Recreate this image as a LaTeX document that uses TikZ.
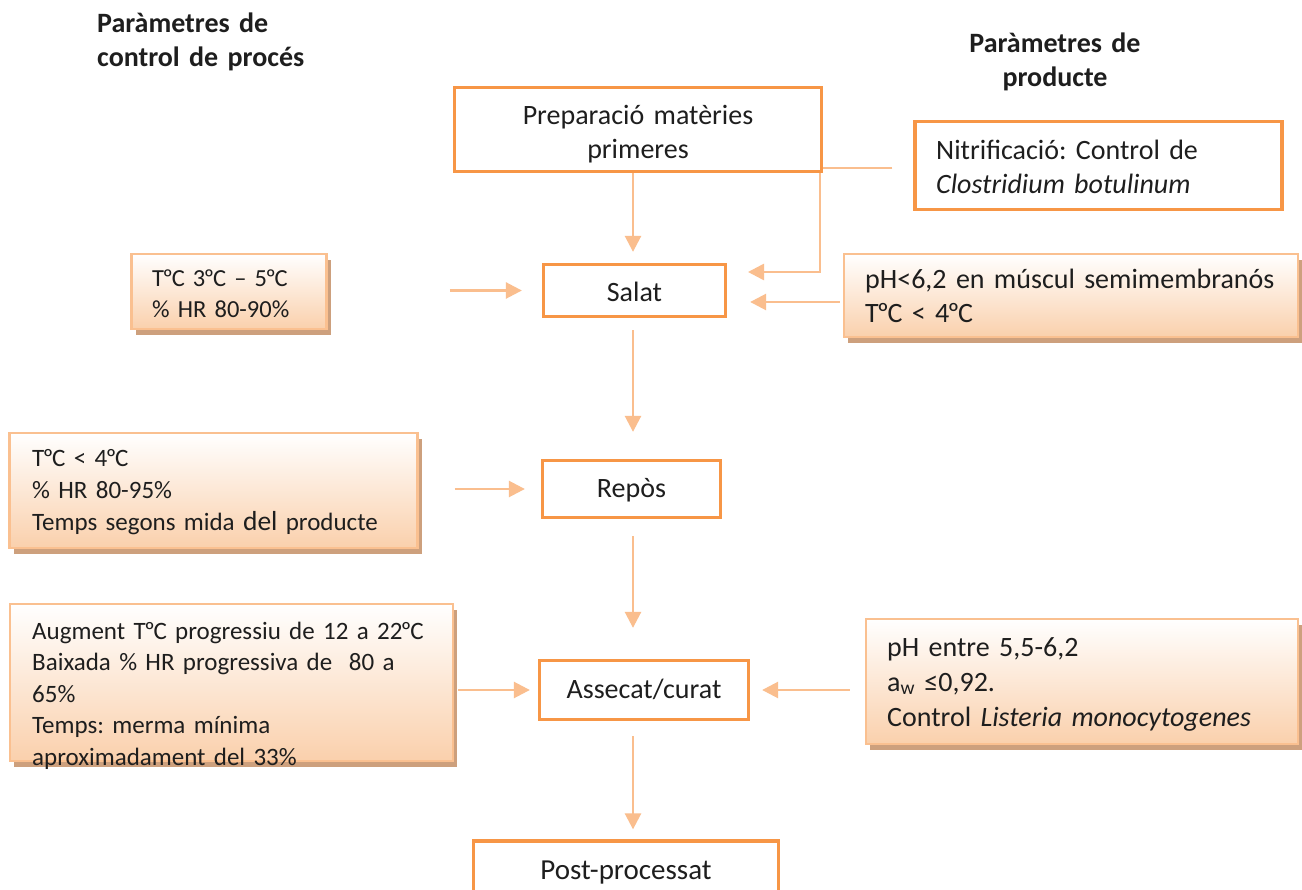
\documentclass[tikz,border=0pt]{standalone}
\usepackage{fontspec}
\setmainfont{Carlito}
\usetikzlibrary{arrows.meta,shadows}
\definecolor{orng}{RGB}{247,150,70}
\definecolor{lorng}{RGB}{250,190,142}
\definecolor{peach}{RGB}{250,208,172}
\definecolor{gedge}{RGB}{250,192,144}
\definecolor{shad}{RGB}{205,160,125}
\definecolor{ink}{RGB}{30,30,30}
\newcommand{\myord}{\kern-0.06em º\kern-0.05em}
\frenchspacing
\begin{document}
\begin{tikzpicture}[x=1pt,y=-1pt,
  obox/.style={draw=orng, line width=3.3pt, fill=white, inner sep=0pt},
  gbox/.style={draw=gedge, line width=2.8pt, top color=white, bottom color=peach, inner sep=0pt,
    drop shadow={shadow xshift=4pt, shadow yshift=-6pt, fill=shad, opacity=1}},
  txt/.style={text=ink, inner sep=0pt, anchor=base west, text width=460pt, align=left},
  ctxt/.style={text=ink, inner sep=0pt, anchor=base, font=\fontsize{28}{34}\selectfont},
  head/.style={text=ink, inner sep=0pt, text width=300pt, font=\fontsize{28}{34}\selectfont\bfseries},
  arr/.style={draw=lorng, line width=2.6pt, -{Triangle[length=16pt,width=16pt]}},
]
\useasboundingbox (0,0) rectangle (1302,890);
\fill[white] (0,0) rectangle (1302,890);

% headers
\node[head, anchor=base west, align=left] (h1) at (97,33) {Paràmetres de\\control de procés};
\node[head, anchor=base, align=center] (h2) at (1055,53) {Paràmetres de\\producte};

% right top box and connector (drawn under the preparation box)
\node[obox, minimum width=367pt, minimum height=88pt] (nitr) at (1098.5,165.5) {};
\node[txt, font=\fontsize{28}{34}\selectfont] (nitrt) at (936,160) {Nitrificació: Control de\\\textit{Clostridium botulinum}};
\coordinate (cj) at (820,168);
\coordinate (ce) at (748,272);
\draw[arr, shorten <=21pt] (nitr.west |- cj) -- (cj) |- (ce);

% process boxes
\node[obox, minimum width=367pt, minimum height=84pt] (prep) at (638,129.5) {};
\node[ctxt, text width=360pt, align=center] (prept) at (638,125) {Preparació matèries\\primeres};
\node[obox, minimum width=182pt, minimum height=52pt] (salat) at (634.5,290.5) {};
\node[ctxt] (salatt) at (634.5,302) {Salat};
\node[obox, minimum width=178pt, minimum height=57pt] (repos) at (631.5,489) {};
\node[ctxt] (repost) at (631.5,498) {Repòs};
\node[obox, minimum width=209pt, minimum height=59pt] (assec) at (644,690) {};
\node[ctxt] (assect) at (644,698) {Assecat/curat};
\node[obox, minimum width=305pt, minimum height=56pt] (post) at (626,869) {};
\node[ctxt, font=\fontsize{29}{34}\selectfont] (postt) at (626,879) {Post-processat};

% gradient boxes, left
\node[gbox, minimum width=195pt, minimum height=75pt] (lb1) at (229,291.5) {};
\node[txt, font=\fontsize{24.5}{31}\selectfont] (lb1t) at (152,287) {T\myord C 3\myord C – 5\myord C\\\% HR 80-90\%};
\node[gbox, minimum width=408pt, minimum height=115pt] (lb2) at (213.5,490.5) {};
\node[txt, font=\fontsize{25}{32}\selectfont] (lb2t) at (32,467) {T\myord C < 4\myord C\\\% HR 80-95\%\\Temps segons mida {\fontsize{27.5}{32}\selectfont del} producte};
\node[gbox, minimum width=443pt, minimum height=157pt] (lb3) at (231.5,682.5) {};
\node[txt, font=\fontsize{25}{31.5}\selectfont] (lb3t) at (32,639) {Augment T\myord C progressiu de 12 a 22\myord C\\Baixada \% HR progressiva de\ \ 80 a\\65\%\\Temps: merma mínima\\aproximadament del 33\%};

% gradient boxes, right
\node[gbox, minimum width=454pt, minimum height=83pt] (rb1) at (1071,295.5) {};
\node[txt, font=\fontsize{28}{34}\selectfont] (rb1t) at (865,289) {pH<6,2 en múscul semimembranós\\T\myord C < 4\myord C};
\node[gbox, minimum width=432pt, minimum height=125pt] (rb3) at (1082,681.5) {};
\node[txt, font=\fontsize{28}{35}\selectfont] (rb3t) at (887,656) {pH entre 5,5-6,2\\a\textsubscript{w} ≤0,92.\\Control \textit{Listeria monocytogenes}};

% vertical flow
\coordinate (ax) at (633,0);
\draw[arr, shorten >=11pt] (prep.south -| ax) -- (salat.north -| ax);
\draw[arr, shorten <=12pt, shorten >=27pt] (salat.south -| ax) -- (repos.north -| ax);
\draw[arr, shorten <=17pt, shorten >=31pt] (repos.south -| ax) -- (assec.north -| ax);
\draw[arr, shorten <=15pt, shorten >=10pt] (assec.south -| ax) -- (post.north -| ax);

% horizontal inputs
\coordinate (y2) at (0,302);
\draw[arr, shorten <=122pt, shorten >=20pt] (lb1.east |- salat) -- (salat.west);
\draw[arr, shorten <=3pt, shorten >=23pt] (rb1.west |- y2) -- (salat.east |- y2);
\draw[arr, shorten <=36pt, shorten >=16pt] (lb2.east |- repos) -- (repos.west);
\draw[arr, shorten <=4pt, shorten >=8pt] (lb3.east |- assec) -- (assec.west);
\draw[arr, shorten <=15pt, shorten >=12pt] (rb3.west |- assec) -- (assec.east);
\end{tikzpicture}
\end{document}
